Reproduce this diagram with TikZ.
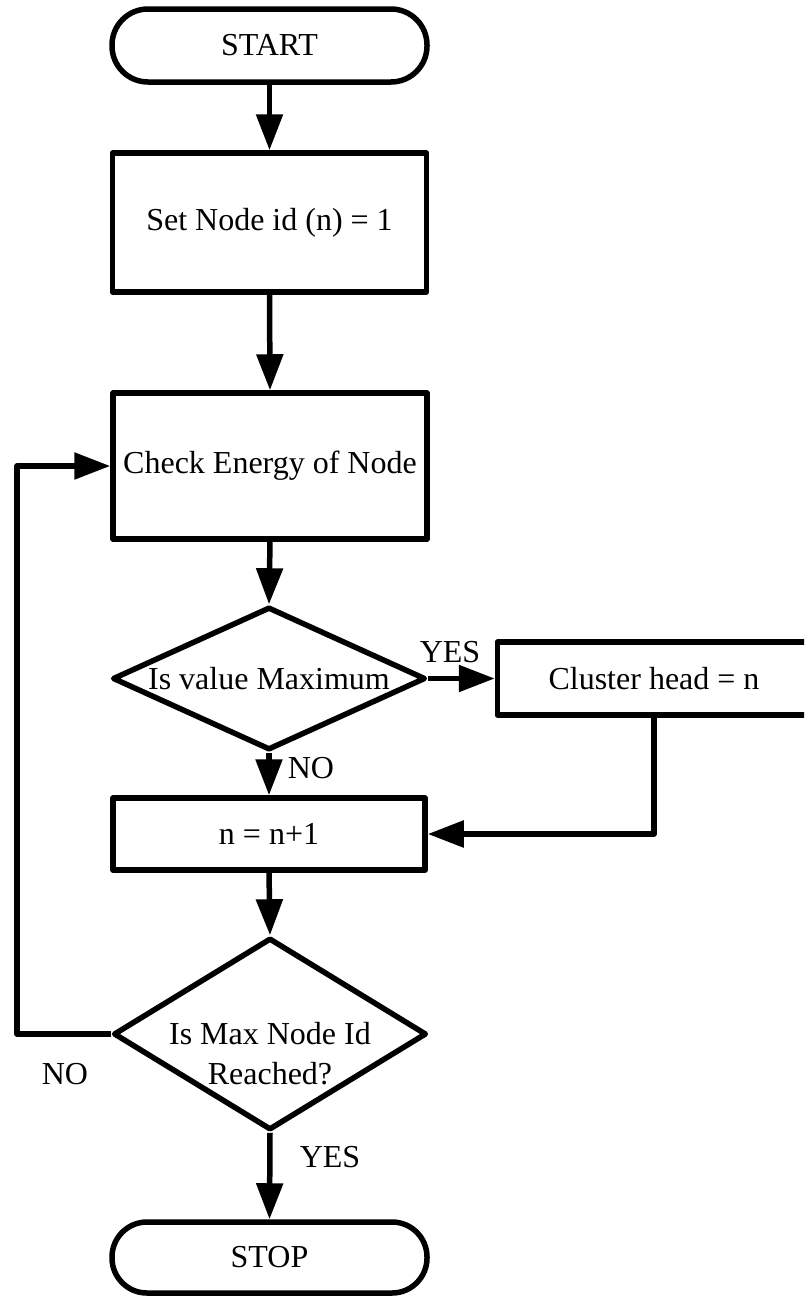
\documentclass[tikz,border=0pt]{standalone}
\usepackage{fontspec}
\setmainfont{Liberation Serif}
\usetikzlibrary{arrows.meta,shapes.geometric}

\tikzset{
  every node/.style={font=\fontsize{32}{40}\selectfont},
  flow/.style={line width=5.5pt, line join=round},
  conn/.style={flow, -{Triangle[length=36pt,width=26pt]}},
  terminal/.style={flow, draw, rectangle, rounded corners=36pt, inner sep=0pt,
                   minimum width=315pt, minimum height=73pt},
  stepbox/.style={flow, draw, rectangle, inner sep=0pt, minimum width=314pt},
  decision/.style={flow, draw, diamond, inner sep=0pt, minimum width=313pt},
  tag/.style={inner sep=0pt}
}

\begin{document}
\begin{tikzpicture}[x=1pt, y=-1pt]
  \useasboundingbox (0,0) rectangle (804,1296);
  \clip (0,0) rectangle (804,1296);

  % main column
  \node[terminal] (start) at (269.5,45.5) {START};
  \node[stepbox, minimum height=139pt] (set) at (269.5,222.5) {Set Node id (n) = 1};
  \node[stepbox, minimum height=146pt] (check) at (270,466) {Check Energy of Node};
  \node[decision, minimum height=143pt,
        label={[tag]center:Is value Maximum}] (d1) at (269,678.5) {};
  \node[stepbox, minimum width=313pt, minimum height=73pt] (cl) at (654,678.5) {Cluster head = n};
  \node[stepbox, minimum width=312pt, minimum height=72pt] (nb) at (269,834) {n = n+1};
  \node[decision, minimum height=192pt,
        label={[tag, align=center, yshift=-20pt]center:Is Max Node Id\\Reached?}] (d2) at (270,1034) {};
  \node[terminal, minimum height=71pt, rounded corners=35pt] (stop) at (269.5,1257.5) {STOP};

  % x position of the return loop
  \coordinate (lx) at (17,0);

  % connectors
  \draw[conn] (start.south) -- (set.north);
  \draw[conn] (set.south) -- (check.north);
  \draw[conn] (check.south) -- (d1.north);
  \draw[conn] (d1.east) -- (cl.west);
  \draw[conn] (d1.south) -- (nb.north);
  \draw[conn] (cl.south) -- (cl.south |- nb.east) -- (nb.east);
  \draw[conn] (nb.south) -- (d2.north);
  \draw[conn] (d2.south) -- (stop.north);
  \draw[conn] (d2.west) -- (d2.west -| lx) |- (check.west);

  % branch labels
  \node[tag] (yes1) at (450,652) {YES};
  \node[tag] (no1) at (311,768) {NO};
  \node[tag] (yes2) at (330,1157) {YES};
  \node[tag] (no2) at (65,1074) {NO};
\end{tikzpicture}
\end{document}
